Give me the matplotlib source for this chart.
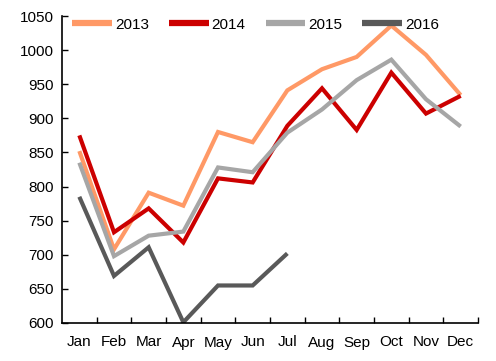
import matplotlib
matplotlib.use("Agg")
import matplotlib.pyplot as plt
import numpy as np

months = ["Jan", "Feb", "Mar", "Apr", "May", "Jun", "Jul", "Aug", "Sep", "Oct", "Nov", "Dec"]
s2013 = [852, 708, 791, 772, 880, 865, 941, 972, 990, 1036, 993, 934]
s2014 = [875, 733, 768, 718, 812, 806, 889, 944, 883, 967, 907, 933]
s2015 = [835, 698, 728, 734, 828, 821, 879, 913, 956, 986, 928, 888]
s2016 = [785, 669, 711, 601, 655, 655, 702]
yticks = [600, 650, 700, 750, 800, 850, 900, 950, 1000, 1050]

plt.rcParams['font.family'] = ['Liberation Sans', 'DejaVu Sans']

fig = plt.figure(figsize=(4.96, 3.61), dpi=100)
ax = fig.add_axes([62/496, 1-323/361, (478-62)/496, (323-16)/361])

series = [("2013", s2013, "#FF9966"), ("2014", s2014, "#CC0000"),
          ("2015", s2015, "#A6A6A6"), ("2016", s2016, "#595959")]
for name, vals, col in series:
    ax.plot(np.arange(len(vals)), vals, color=col, lw=3.0, label=name,
            solid_joinstyle='miter', solid_capstyle='butt')

ax.set_xlim(-0.5, 11.5)
ax.set_ylim(600, 1050)
ax.set_yticks(yticks)
ax.set_xticks(np.arange(12))
ax.set_xticklabels(months)
ax.set_xticks(np.arange(12) + 0.5, minor=True)
ax.tick_params(axis='x', which='major', length=0, pad=9, labelsize=11, colors='black')
ax.tick_params(axis='x', which='minor', direction='in', length=4, width=1)
ax.tick_params(axis='y', direction='in', length=4, width=1, labelsize=11, pad=6)
for s in ['top', 'right']:
    ax.spines[s].set_visible(False)
for s in ['left', 'bottom']:
    ax.spines[s].set_linewidth(1.2)

leg = ax.legend(loc='upper left', ncol=4, frameon=False, fontsize=11,
                handlelength=2.6, handletextpad=0.2, columnspacing=1.3,
                bbox_to_anchor=(0.01, 1.015), borderaxespad=0)
for h in leg.get_lines():
    h.set_linewidth(4.5)

fig.savefig("out.png", dpi=100)
